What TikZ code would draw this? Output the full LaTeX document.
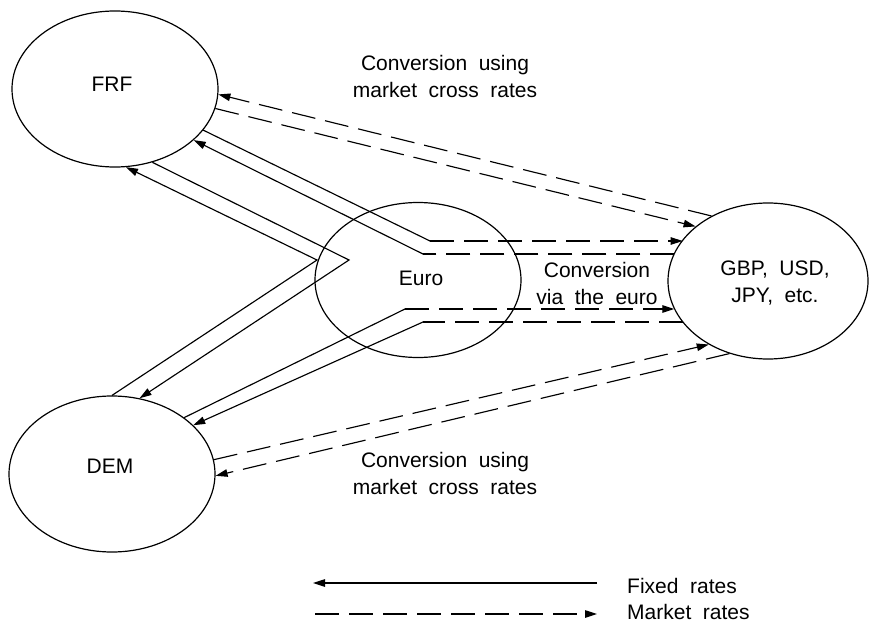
\documentclass[tikz,border=0pt]{standalone}
\usepackage{fontspec}
\setmainfont{Liberation Sans}
\usetikzlibrary{shapes.geometric,arrows.meta}
\newcommand\labelfont{\fontsize{21}{27}\selectfont\spaceskip=0.55em\relax}
\begin{document}
\begin{tikzpicture}[x=1pt,y=-1pt,
  txt/.style={font=\labelfont, inner sep=0pt, align=center},
  currency/.style={ellipse, draw, line width=1.2pt, inner sep=0pt,
                   minimum width=206pt, minimum height=156pt},
  fixed/.style={line width=1.15pt},
  market/.style={line width=1.15pt, dash pattern=on 24pt off 10pt},
  tip/.style={-{Triangle[length=12pt,width=7.5pt]}},
]
\useasboundingbox (0,0) rectangle (872,623);

% currencies
\node[currency] (frf) at (115,89) {};
\node[currency] (dem) at (112,474) {};
\node[currency, minimum height=155pt] (euro) at (418,280) {};
\node[currency, minimum width=200pt] (gbp) at (768,281) {};

\node[txt] (frfname) at (112,84.5) {FRF};
\node[txt] (demname) at (110,466.5) {DEM};
\node[txt] (euroname) at (421,278) {Euro};
\node[txt] (gbpname) at (775,283) {GBP, USD,\\JPY, etc.};

% route labels
\node[txt] (crosstop) at (445,76) {Conversion using\\market cross rates};
\node[txt] (crossbot) at (445,473) {Conversion using\\market cross rates};
\node[txt] (viaeuro) at (597,283) {Conversion\\via the euro};

% bends of the routes through the euro
\coordinate (kA) at (430,241);
\coordinate (kB) at (423,254);
\coordinate (kD) at (405,309);
\coordinate (kE) at (423,322);
\coordinate (vOut) at (317,260);
\coordinate (vIn) at (349,260);

% conversion at market cross rates
\draw[market,tip] (gbp.131) -- (frf.-3);
\draw[market,tip] (frf.-11) -- (gbp.143);
\draw[market,tip] (dem.8) -- (gbp.227);
\draw[market,tip] (gbp.242) -- (dem.-1);

% conversion via the euro
\draw[fixed] (frf.-25) -- (kA);
\draw[market,tip] (kA) -- (kA -| gbp.154);
\draw[market] (kB -| gbp.163) -- (kB);
\draw[fixed,tip] (kB) -- (frf.-33);
\draw[fixed] (dem.38) -- (kD);
\draw[market,tip] (kD) -- (kD -| gbp.197);
\draw[market] (kE -| gbp.206) -- (kE);
\draw[fixed,tip] (kE) -- (dem.31);

% FRF <-> DEM at the fixed rates
\draw[fixed,tip] (dem.90) -- (vOut) -- (frf.-82);
\draw[fixed,tip] (frf.-63) -- (vIn) -- (dem.70);

% legend
\node[txt, anchor=base west] (fixedlbl) at (627,593) {Fixed rates};
\node[txt, anchor=base west] (marketlbl) at (627,619) {Market rates};
\coordinate (fixR) at (597,583);
\coordinate (fixL) at (313,583);
\coordinate (mktL) at (315,614);
\coordinate (mktR) at (597,614);
\draw[fixed,tip] (fixR) -- (fixL);
\draw[market,tip] (mktL) -- (mktR);
\end{tikzpicture}
\end{document}
